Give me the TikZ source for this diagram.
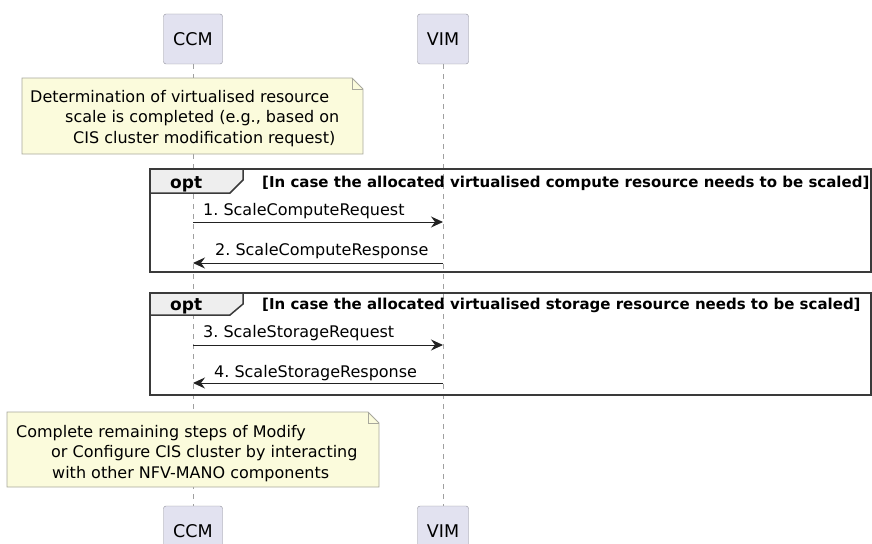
\documentclass[tikz,border=0pt]{standalone}
\usepackage{fontspec}
\setmainfont{DejaVu Sans}
\usetikzlibrary{arrows.meta,positioning}
\frenchspacing

\definecolor{partfill}{HTML}{E2E2F0}
\definecolor{partline}{HTML}{8E8E98}
\definecolor{lifegray}{HTML}{A0A0A0}
\definecolor{notefill}{HTML}{FBFBDC}
\definecolor{noteline}{HTML}{A8A89C}
\definecolor{tabfill}{HTML}{EEEEEE}
\definecolor{framecol}{HTML}{3A3A3A}
\definecolor{msgcol}{HTML}{222222}

\begin{document}
\begin{tikzpicture}[x=1pt,y=-1pt,
  part/.style={draw=partline,fill=partfill,rounded corners=2.5pt,minimum height=50pt,inner sep=0pt,font=\fontsize{17.5}{20}\selectfont},
  life/.style={draw=lifegray,line width=0.8pt,dash pattern=on 5pt off 5pt},
  notebox/.style={draw=noteline,fill=notefill,line width=0.8pt},
  notetext/.style={anchor=north west,align=left,inner sep=0pt,font=\fontsize{16}{20.5}\selectfont},
  msg/.style={draw=msgcol,line width=1pt,-{Stealth[length=12pt,width=11pt,inset=4pt]}},
  msglabel/.style={anchor=base west,inner sep=0pt,font=\fontsize{16}{19}\selectfont},
  optframe/.style={draw=framecol,line width=2pt},
  opttab/.style={draw=framecol,fill=tabfill,line width=1.5pt},
  optlabel/.style={anchor=base west,inner sep=0pt,font=\bfseries\fontsize{17}{20}\selectfont},
  guard/.style={anchor=base west,inner sep=0pt,font=\bfseries\fontsize{15}{18}\selectfont}]

  \useasboundingbox (0,0) rectangle (872,543);

  % participants
  \node[part,minimum width=59pt] (ccm) at (193,39) {CCM};
  \node[part,minimum width=51pt] (vim) at (443,39) {VIM};
  \node[part,minimum width=59pt] (ccmb) at (193,531) {CCM};
  \node[part,minimum width=51pt] (vimb) at (443,531) {VIM};

  \draw[life] (ccm) -- (ccmb);
  \draw[life] (vim) -- (vimb);

  % first note
  \filldraw[notebox] (22,78) -- (352,78) -- (363,89) -- (363,154) -- (22,154) -- cycle;
  \draw[notebox,fill=none] (352,78) |- (363,89);
  \node[notetext] (note1) at (30,90) {Determination of virtualised resource\\
    \hspace*{35pt}scale is completed (e.g., based on\\
    \hspace*{43pt}CIS cluster modification request)};

  % opt frames
  \filldraw[opttab] (150,169) -- (243,169) -- (243,180) -- (230,193) -- (150,193) -- cycle;
  \draw[optframe] (150,169) rectangle (871,272);
  \node[optlabel] (opt1) at (170,188) {opt};
  \node[guard] (guard1) at (262,187) {[In case the allocated virtualised compute resource needs to be scaled]};

  \filldraw[opttab] (150,293) -- (243,293) -- (243,304) -- (230,315) -- (150,315) -- cycle;
  \draw[optframe] (150,293) rectangle (871,395);
  \node[optlabel] (opt2) at (170,310) {opt};
  \node[guard] (guard2) at (262,309) {[In case the allocated virtualised storage resource needs to be scaled]};

  % messages
  \coordinate (ccm1) at (193,222);  \coordinate (vim1) at (443,222);
  \coordinate (ccm2) at (193,263);  \coordinate (vim2) at (443,263);
  \coordinate (ccm3) at (193,345);  \coordinate (vim3) at (443,345);
  \coordinate (ccm4) at (193,383);  \coordinate (vim4) at (443,383);

  \draw[msg] (ccm1) -- (vim1);
  \node[msglabel] (m1) at (203,215) {1. ScaleComputeRequest};
  \draw[msg] (vim2) -- (ccm2);
  \node[msglabel] (m2) at (215,255) {2. ScaleComputeResponse};
  \draw[msg] (ccm3) -- (vim3);
  \node[msglabel] (m3) at (203,337) {3. ScaleStorageRequest};
  \draw[msg] (vim4) -- (ccm4);
  \node[msglabel] (m4) at (214,377) {4. ScaleStorageResponse};

  % second note
  \filldraw[notebox] (7,412) -- (368,412) -- (379,423) -- (379,487) -- (7,487) -- cycle;
  \draw[notebox,fill=none] (368,412) |- (379,423);
  \node[notetext] (note2) at (16,425) {Complete remaining steps of Modify\\
    \hspace*{35pt}or Configure CIS cluster by interacting\\
    \hspace*{36pt}with other NFV-MANO components};
\end{tikzpicture}
\end{document}
